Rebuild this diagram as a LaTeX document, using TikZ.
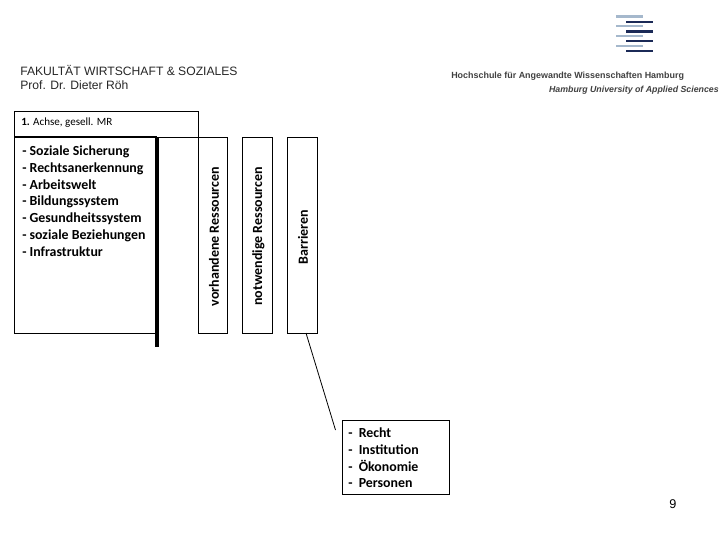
\documentclass[tikz,border=0pt]{standalone}
\usepackage{fontspec}
\usetikzlibrary{calc}
\setmainfont{Liberation Sans}
\newfontfamily\carl{Carlito}
\definecolor{logolight}{HTML}{A5B8CC}
\definecolor{logodark}{HTML}{1B2A57}
\tikzset{
 box/.style={draw=black,line width=0.75pt,rectangle,inner sep=0pt,outer sep=0pt},
 listtext/.style={font=\carl\bfseries\fontsize{10.4pt}{12.6pt}\selectfont,align=left,anchor=north west,inner sep=0pt},
 sidetext/.style={font=\carl\bfseries\fontsize{10.5pt}{12pt}\selectfont,rotate=90,anchor=west,inner sep=0pt},
 head/.style={font=\fontsize{9.1pt}{10.2pt}\selectfont,align=left,anchor=north west,inner sep=0pt,text=black!85},
 logoL/.style={draw=logolight,line width=1.6pt},
 logoD/.style={draw=logodark,line width=1.7pt},
}
\begin{document}
\begin{tikzpicture}[x=0.75pt,y=-0.75pt]
\useasboundingbox (0,0) rectangle (720,540);
\foreach \yy in {0,1,2,3}{
 \draw[logoL] (616,{16.5+\yy*9.7}) -- (643,{16.5+\yy*9.7});
 \draw[logoD] (626,{21.7+\yy*9.7}) -- (653,{21.7+\yy*9.7});
}
\node[font=\bfseries\fontsize{6.7pt}{8pt}\selectfont,anchor=west,inner sep=0pt,text=black!75] (logoa) at (451,76.5) {Hochschule für Angewandte Wissenschaften Hamburg};
\node[font=\bfseries\itshape\fontsize{6.6pt}{8pt}\selectfont,anchor=east,inner sep=0pt,text=black!75] (logob) at (719,90.5) {Hamburg University of Applied Sciences};
\node[head] (title) at (20,65) {FAKULTÄT WIRTSCHAFT \& SOZIALES\\Prof. Dr. Dieter Röh};
\node[box,minimum width=138pt,minimum height=19.5pt] (header) at (106,124) {};
\node[font=\carl\fontsize{8.3pt}{10pt}\selectfont,anchor=west,inner sep=0pt] (axis) at (21,122.5) {\textbf{1.} Achse, gesell. MR};
\node[box,minimum width=107.25pt,minimum height=147pt] (main) at (85.5,235) {};
\draw[line width=1.5pt] (main.north west) -- (main.north east);
\draw[line width=3pt] (main.north east) -- ++(0,210);
\node[listtext] (list) at (22,145.5) {- Soziale Sicherung\\- Rechtsanerkennung\\- Arbeitswelt\\- Bildungssystem\\- Gesundheitssystem\\- soziale Beziehungen\\- Infrastruktur};
\node[box,minimum width=21.75pt,minimum height=147pt] (vor) at (212.5,235) {};
\node[box,minimum width=22.5pt,minimum height=147pt] (not) at (257,235) {};
\node[box,minimum width=22.5pt,minimum height=147pt] (bar) at (302,235) {};
\node[sidetext] (vort) at (214,306.5) {vorhandene Ressourcen};
\node[sidetext] (nott) at (258.5,306) {notwendige Ressourcen};
\node[sidetext] (bart) at (303,264.5) {Barrieren};
\node[box,minimum width=80.6pt,minimum height=55.5pt] (recht) at (395.75,457) {};
\node[listtext] (rechtt) at (348,427.5) {-\ \ Recht\\-\ \ Institution\\-\ \ Ökonomie\\-\ \ Personen};
\coordinate (barfoot) at ($(bar.south)+(4,0)$);
\coordinate (lineend) at (335.5,430);
\draw[line width=0.6pt] (barfoot) -- (lineend);
\node[font=\fontsize{9.5pt}{11pt}\selectfont,inner sep=0pt] (page) at (673,504) {9};
\end{tikzpicture}
\end{document}
